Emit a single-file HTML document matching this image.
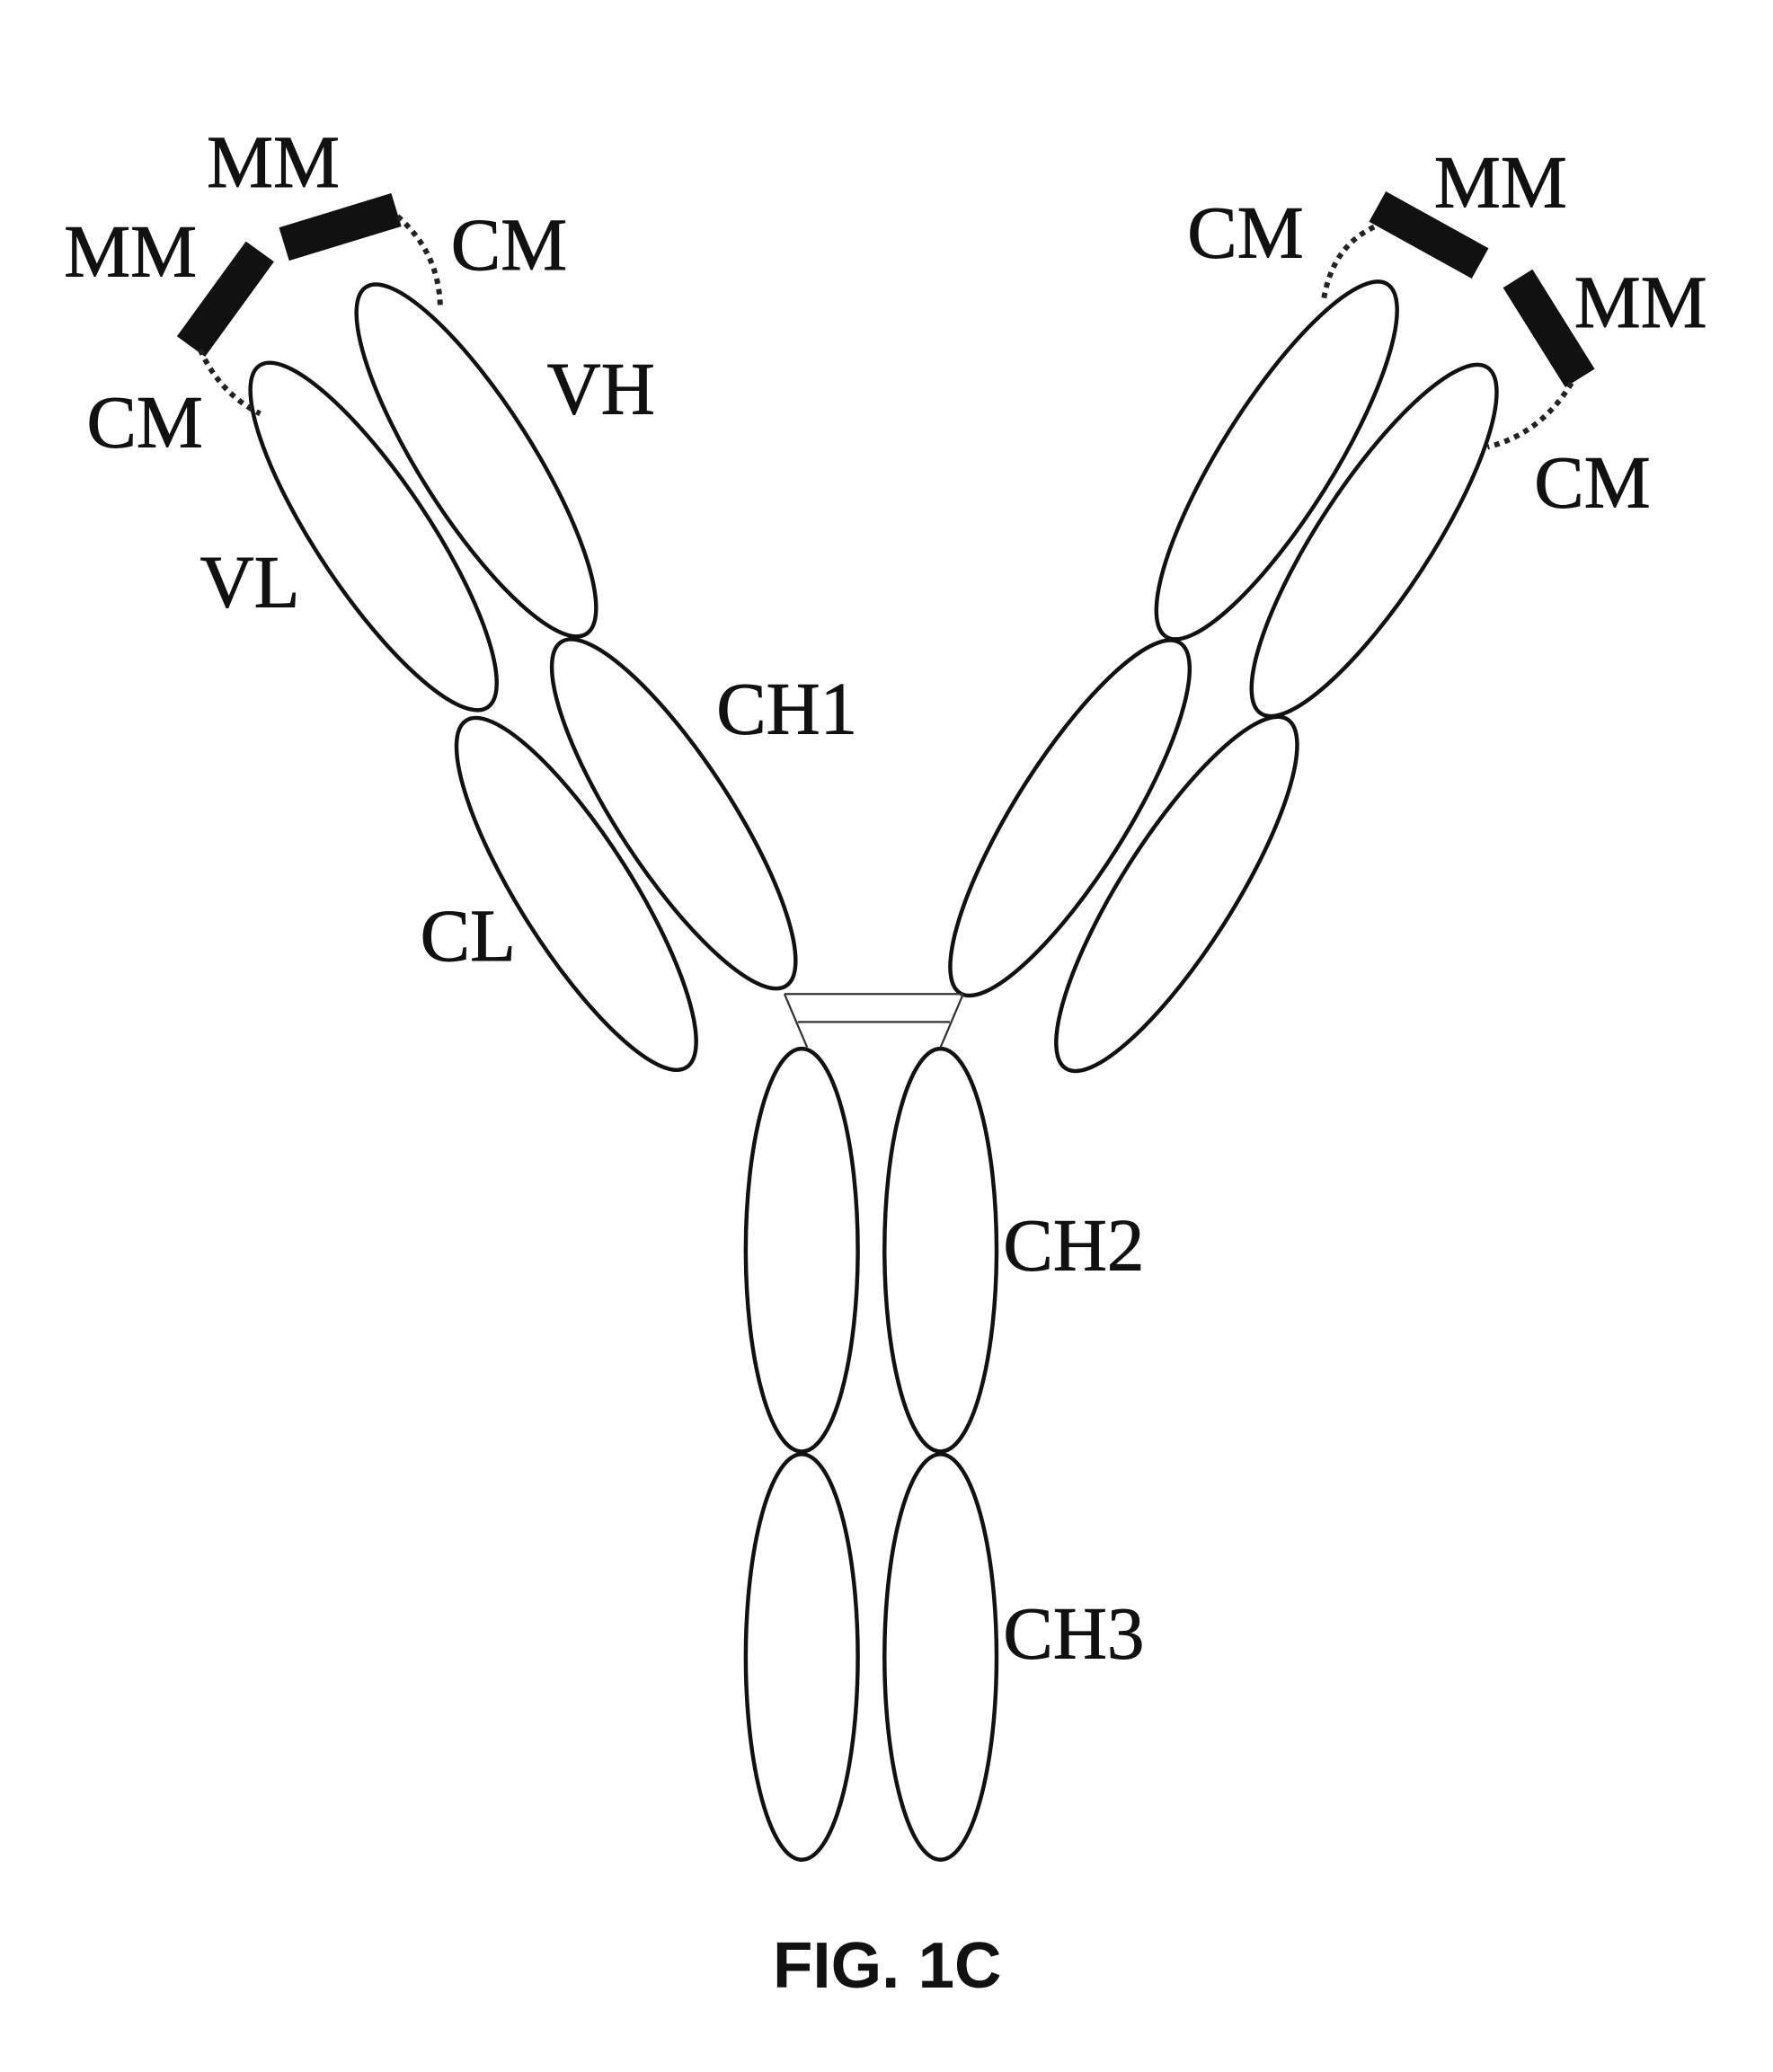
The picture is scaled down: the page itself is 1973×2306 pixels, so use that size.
<!DOCTYPE html>
<html><head><style>html,body{margin:0;padding:0;background:#fff}svg{display:block}</style></head>
<body>
<svg width="1973" height="2306" viewBox="0 0 1329 1553" xmlns="http://www.w3.org/2000/svg">
<rect width="1329" height="1553" fill="#fff"/>
<g fill="none" stroke="#111" stroke-width="3">
<ellipse cx="280" cy="402" rx="154" ry="42" transform="rotate(56.3 280 402)"/>
<ellipse cx="357" cy="345" rx="154" ry="42" transform="rotate(57.6 357 345)"/>
<ellipse cx="432" cy="670" rx="154" ry="42" transform="rotate(57.6 432 670)"/>
<ellipse cx="505" cy="610" rx="154" ry="42" transform="rotate(56.8 505 610)"/>
<ellipse cx="957" cy="345" rx="156" ry="42" transform="rotate(-57.9 957 345)"/>
<ellipse cx="1030" cy="405" rx="155" ry="42" transform="rotate(-56.8 1030 405)"/>
<ellipse cx="802" cy="613" rx="155" ry="42" transform="rotate(-57.9 802 613)"/>
<ellipse cx="882" cy="670" rx="155" ry="42" transform="rotate(-57.6 882 670)"/>
<ellipse cx="601" cy="937" rx="42" ry="151"/>
<ellipse cx="705" cy="937" rx="42" ry="151"/>
<ellipse cx="601" cy="1242" rx="42" ry="152"/>
<ellipse cx="705" cy="1242" rx="42" ry="152"/>
</g>
<g fill="none" stroke="#333" stroke-width="1.5">
<line x1="588" y1="745" x2="722" y2="745"/>
<line x1="598" y1="766" x2="712" y2="766"/>
<line x1="588" y1="745" x2="605" y2="785"/>
<line x1="722" y1="745" x2="705" y2="785"/>
</g>
<g fill="#111">
<rect x="-44" y="-13" width="88" height="26" transform="translate(255 170) rotate(-17)"/>
<rect x="-44" y="-13" width="88" height="26" transform="translate(169 224) rotate(-54)"/>
<rect x="-44" y="-13" width="88" height="26" transform="translate(1071 176) rotate(29)"/>
<rect x="-44" y="-13" width="88" height="26" transform="translate(1161 246) rotate(58)"/>
</g>
<g fill="none" stroke="#222" stroke-width="4" stroke-dasharray="4 4">
<path d="M298 162 Q330 190 330 232"/>
<path d="M150 262 Q165 295 195 310"/>
<path d="M1030 170 Q998 185 992 226"/>
<path d="M1178 287 Q1155 325 1115 335"/>
</g>
<g font-family="Liberation Serif, serif" font-size="56" fill="#111" stroke="#111" stroke-width="0.6">
<text x="155" y="140">MM</text>
<text x="48" y="207">MM</text>
<text x="338" y="202">CM</text>
<text x="65" y="335">CM</text>
<text x="410" y="310">VH</text>
<text x="150" y="455">VL</text>
<text x="537" y="550">CH1</text>
<text x="315" y="720">CL</text>
<text x="890" y="193">CM</text>
<text x="1075" y="155">MM</text>
<text x="1180" y="245">MM</text>
<text x="1150" y="380">CM</text>
<text x="752" y="952">CH2</text>
<text x="752" y="1243">CH3</text>
</g>
<text x="665" y="1490" text-anchor="middle" font-family="Liberation Sans, sans-serif" font-weight="bold" font-size="49" fill="#111">FIG. 1C</text>
</svg>
</body></html>
